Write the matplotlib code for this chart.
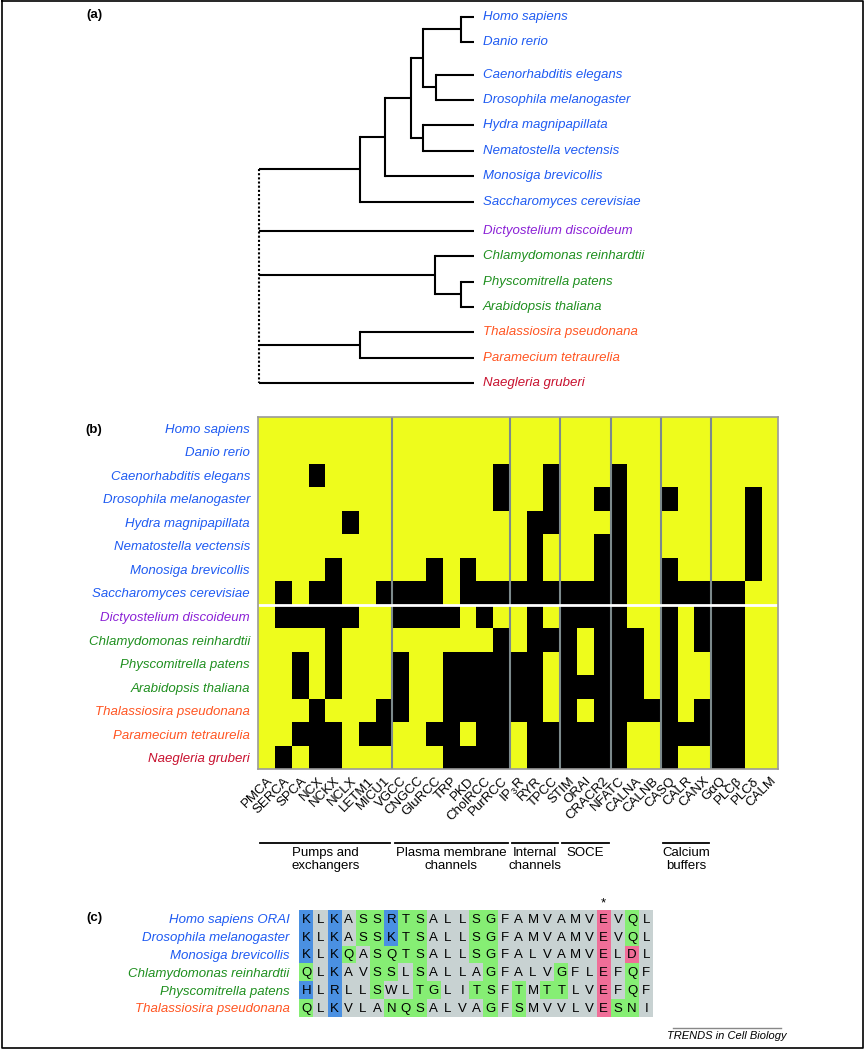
import numpy as np
import matplotlib
matplotlib.use("Agg")
import matplotlib.pyplot as plt
from matplotlib.colors import ListedColormap
from matplotlib import transforms

plt.rcParams['font.family'] = ['Liberation Sans', 'DejaVu Sans']
plt.rcParams['mathtext.fontset'] = 'custom'
plt.rcParams['mathtext.rm'] = 'Liberation Sans'
plt.rcParams['mathtext.it'] = 'Liberation Sans:italic'

# ---- data ----
species = ['Homo sapiens', 'Danio rerio', 'Caenorhabditis elegans', 'Drosophila melanogaster',
           'Hydra magnipapillata', 'Nematostella vectensis', 'Monosiga brevicollis',
           'Saccharomyces cerevisiae', 'Dictyostelium discoideum', 'Chlamydomonas reinhardtii',
           'Physcomitrella patens', 'Arabidopsis thaliana', 'Thalassiosira pseudonana',
           'Paramecium tetraurelia', 'Naegleria gruberi']
species_group = ['opi'] * 8 + ['amo'] + ['pla'] * 3 + ['chr'] * 2 + ['exc']

# tree: (node depth, children); leaves are species indices, leaf depth = 1
tree = (0.0, [(0.47, [(0.587, [(0.707, [(0.764, [(0.941, [0, 1]), (0.823, [2, 3])]),
                                         (0.764, [4, 5])]), 6]), 7]),
              8,
              (0.82, [9, (0.941, [10, 11])]),
              (0.47, [12, 13]),
              14])

genes = ['PMCA', 'SERCA', 'SPCA', 'NCX', 'NCKX', 'NCLX', 'LETM1', 'MICU1',
         'VGCC', 'CNGCC', 'GluRCC', 'TRP', 'PKD', 'CholRCC', 'PurRCC',
         'IP$_3$R', 'RYR', 'TPCC', 'STIM', 'ORAI', 'CRACR2', 'NFATC', 'CALNA', 'CALNB',
         'CASQ', 'CALR', 'CANX', 'G\u03b1Q', 'PLC\u03b2', 'PLC\u03b4', 'CALM']
gene_groups = [('Pumps and\nexchangers', 0, 8), ('Plasma membrane\nchannels', 8, 15),
               ('Internal\nchannels', 15, 18), ('SOCE', 18, 21), ('Calcium\nbuffers', 24, 27)]
group_breaks = [8, 15, 18, 21, 24, 27]

# 1 = absent (black), 0 = present (yellow)
absence = [
    '0000000000000000000000000000000',
    '0000000000000000000000000000000',
    '0001000000000010010001000000000',
    '0000000000000010010011001000010',
    '0000010000000000110001000000010',
    '0000000000000000100011000000010',
    '0000100000101000100011001000010',
    '0101100111101111111111001111100',
    '0111110011110100101111001011100',
    '0000100000000010111011101011100',
    '0010100010011111101011101001100',
    '0010100010011111101111101001100',
    '0001000110011111101011111011100',
    '0011101100110110111111001111100',
    '0101100000011110111111001001100',
]

aln_names = ['Homo sapiens ORAI', 'Drosophila melanogaster', 'Monosiga brevicollis',
             'Chlamydomonas reinhardtii', 'Physcomitrella patens', 'Thalassiosira pseudonana']
aln_group = ['opi', 'opi', 'opi', 'pla', 'pla', 'chr']
aln_seqs = ['KLKASSRTSALLSGFAMVAMVEVQL',
            'KLKASSKTSALLSGFAMVAMVEVQL',
            'KLKQASQTSALLSGFALVAMVELDL',
            'QLKAVSSLSALLAGFALVGFLEFQF',
            'HLRLLSWLTGLITSFTMTTLVEFQF',
            'QLKVLANQSALVAGFSMVVLVESNI']
# b = basic, g = polar, p = acidic, . = other
aln_class = ['b.b.ggbgg...gg.......p.g.',
             'b.b.ggbgg...gg.......p.g.',
             'b.bg.gggg...gg.......p.p.',
             'g.b..gg.g....g....g..p.g.',
             'b.b..g..gg..gg.g.gg..p.g.',
             'g.b...ggg....g.g.....pgg.']
conserved_col = 21

# ---- style ----
group_color = {'opi': '#1f5bf2', 'amo': '#8b22d6', 'pla': '#1f8f1f',
               'chr': '#ff5522', 'exc': '#c8102e'}
yellow = '#eefc1c'
aln_colors = {'b': '#4a90e2', 'g': '#86ee74', 'p': '#f06e98', '.': '#c8d2d2'}
FS = 9.5

W, H = 866, 1050
fig = plt.figure(figsize=(W / 100, H / 100), dpi=100)


def px_axes(x0, y0, x1, y1):
    return fig.add_axes([x0 / W, 1 - y1 / H, (x1 - x0) / W, (y1 - y0) / H])


# background axes in pixel units for frame / panel letters
bg = fig.add_axes([0, 0, 1, 1])
bg.set_xlim(0, W)
bg.set_ylim(H, 0)
bg.axis('off')
bg.plot([2, 863, 863, 2, 2], [0.5, 0.5, 1048, 1048, 0.5], color='k', lw=1.2)
for lab, yy in [('(a)', 15), ('(b)', 430), ('(c)', 918)]:
    bg.text(94, yy, lab, fontsize=FS, fontweight='bold', ha='center', va='center')

# ---- (a) tree ----
leaf_y = np.arange(len(species), dtype=float)
leaf_y[2:] += 0.28
leaf_y[8:] += 0.15
axt = px_axes(259, 16.7, 473.6, 383.3)
axt.set_xlim(0, 1)
axt.set_ylim(leaf_y[-1], 0)
axt.axis('off')


def draw(node):
    if isinstance(node, int):
        return leaf_y[node], 1.0
    depth, kids = node
    ys = []
    for k in kids:
        y, x = draw(k)
        axt.plot([depth, x], [y, y], color='k', lw=1.5, clip_on=False,
                 solid_capstyle='butt')
        ys.append(y)
    ls = (0, (1, 1)) if depth == 0 else '-'
    axt.plot([depth, depth], [min(ys), max(ys)], color='k', lw=1.5, ls=ls,
             clip_on=False)
    return (min(ys) + max(ys)) / 2, depth


draw(tree)
for i, sp in enumerate(species):
    axt.text(1.044, leaf_y[i], sp, fontsize=FS, style='italic', va='center',
             color=group_color[species_group[i]])

# ---- (b) presence / absence matrix ----
M = np.array([[int(c) for c in row] for row in absence])
axh = px_axes(258.3, 416.7, 778.3, 769.3)
axh.pcolormesh(np.arange(M.shape[1] + 1), np.arange(M.shape[0] + 1), M,
               cmap=ListedColormap([yellow, 'black']), vmin=0, vmax=1)
axh.set_xlim(0, M.shape[1])
axh.set_ylim(M.shape[0], 0)
axh.vlines(group_breaks, 0, M.shape[0], color='#7c8a8c', lw=1.5)
axh.hlines(8, 0, M.shape[1], color='white', lw=2)
for s in axh.spines.values():
    s.set_color('#9a9a9a')
    s.set_linewidth(1.2)
axh.set_yticks(np.arange(len(species)) + 0.5)
axh.set_yticklabels(species, fontsize=FS, style='italic')
for t, g in zip(axh.get_yticklabels(), species_group):
    t.set_color(group_color[g])
axh.set_xticks(np.arange(len(genes)) + 0.5)
axh.set_xticklabels(genes, fontsize=FS, rotation=45, ha='right',
                    rotation_mode='anchor')
axh.tick_params(length=0, pad=6)
axh.tick_params(axis='x', pad=4)

tr = transforms.blended_transform_factory(axh.transData, bg.transData)
for name, a, b in gene_groups:
    bg.plot([a + 0.12, b - 0.12], [843, 843], color='k', lw=1.3, transform=tr)
    bg.text((a + b) / 2, 847, name, fontsize=FS, ha='center', va='top',
            linespacing=1.1, transform=tr)

# ---- (c) ORAI alignment ----
ncol = len(aln_seqs[0])
C = np.array([[list(aln_colors).index(c) for c in row] for row in aln_class])
axa = px_axes(299.3, 910, 299.3 + ncol * 14.16, 1016.7)
axa.pcolormesh(np.arange(ncol + 1), np.arange(len(aln_seqs) + 1), C,
               cmap=ListedColormap(list(aln_colors.values())), vmin=0, vmax=3)
axa.set_xlim(0, ncol)
axa.set_ylim(len(aln_seqs), 0)
for i, seq in enumerate(aln_seqs):
    for j, ch in enumerate(seq):
        axa.text(j + 0.5, i + 0.55, ch, fontsize=FS, ha='center', va='center')
axa.text(conserved_col + 0.5, -0.35, '*', fontsize=FS, ha='center', va='center')
for s in axa.spines.values():
    s.set_visible(False)
axa.set_xticks([])
axa.set_yticks(np.arange(len(aln_names)) + 0.5)
axa.set_yticklabels(aln_names, fontsize=FS, style='italic')
for t, g in zip(axa.get_yticklabels(), aln_group):
    t.set_color(group_color[g])
axa.tick_params(length=0, pad=7)

# journal tag
bg.plot([673, 781], [1027.5, 1027.5], color='#888888', lw=1)
bg.text(727, 1036, 'TRENDS in Cell Biology', fontsize=8, style='italic',
        ha='center', va='center')

fig.savefig('out.png', dpi=100)
